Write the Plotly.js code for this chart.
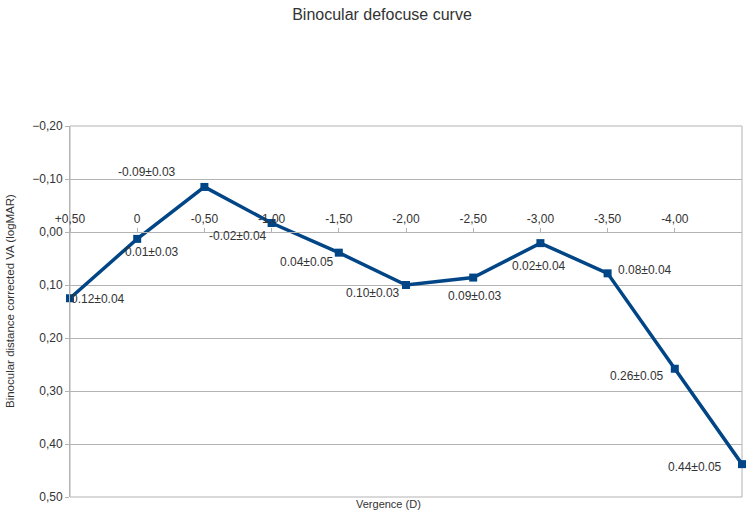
<!DOCTYPE html>
<html>
<head>
<meta charset="utf-8">
<script src="https://cdn.plot.ly/plotly-3.0.1.min.js"></script>
<style>html,body{margin:0;padding:0;background:#fff;}#chart{width:750px;height:513px;}</style>
</head>
<body>
<div id="chart"></div>
<script>
// ---- data ----
const vergence = ["+0,50", "0", "-0,50", "-1,00", "-1,50", "-2,00", "-2,50", "-3,00", "-3,50", "-4,00", "-4,50"];
const shownTicks = ["+0,50", "0", "-0,50", "-1,00", "-1,50", "-2,00", "-2,50", "-3,00", "-3,50", "-4,00"];
const logMAR = [0.125, 0.013, -0.085, -0.017, 0.039, 0.100, 0.086, 0.021, 0.078, 0.258, 0.438];
const pointLabels = ["0.12±0.04", "0.01±0.03", "-0.09±0.03", "-0.02±0.04", "0.04±0.05", "0.10±0.03",
                     "0.09±0.03", "0.02±0.04", "0.08±0.04", "0.26±0.05", "0.44±0.05"];
const yRange = [0.5, -0.2];

// ---- styles ----
const labelShiftX = [28, 15, -57, -34, -32, -33, 2, -1, 37, -38, -47];
const labelShiftY = [-1, -13, 15, -13, -9, -8, -18, -23, 3, -7, -3];
const lineColor = "#004586";
const gridColor = "#b3b3b3";
const textColor = "#333333";
const font = "Liberation Sans, Arial, sans-serif";

const trace = {
  x: vergence, y: logMAR, type: "scatter", mode: "lines+markers",
  line: {color: lineColor, width: 3.5},
  marker: {symbol: "square", size: 8, color: lineColor},
  cliponaxis: false, hoverinfo: "skip"
};

// category axis: annotation x given as category index
const annotations = pointLabels.map((t, i) => ({
  x: vergence.indexOf(vergence[i]), y: logMAR[i], xref: "x", yref: "y", text: t, showarrow: false,
  xanchor: "center", yanchor: "middle", xshift: labelShiftX[i], yshift: labelShiftY[i],
  font: {family: font, size: 12, color: textColor}
}));
annotations.push({
  xref: "paper", yref: "paper", x: 0, y: (497 - 301) / 371, xshift: -60, textangle: -90,
  text: "Binocular distance corrected VA (logMAR)", showarrow: false,
  xanchor: "center", yanchor: "middle", font: {family: font, size: 11.5, color: textColor}
});
annotations.push({
  xref: "paper", yref: "paper", x: (388 - 70) / 672, y: 0, yshift: -7,
  text: "Vergence (D)", showarrow: false, xanchor: "center", yanchor: "middle",
  font: {family: font, size: 11, color: textColor}
});

const layout = {
  width: 750, height: 513,
  margin: {l: 70, r: 8, t: 126, b: 16},
  paper_bgcolor: "#fff", plot_bgcolor: "#fff",
  separators: ",.",
  showlegend: false,
  font: {family: font, size: 12, color: textColor},
  title: {text: "Binocular defocuse curve", font: {family: font, size: 16, color: textColor},
          xref: "container", x: 382 / 750, xanchor: "center", yref: "container", y: 1 - 14 / 513, yanchor: "middle"},
  xaxis: {
    type: "category", range: [0, vergence.length - 1],
    tickmode: "array", tickvals: shownTicks, ticktext: shownTicks,
    anchor: "free", position: (yRange[0] - 0) / (yRange[0] - yRange[1]), side: "top",
    showline: true, linecolor: gridColor, linewidth: 1,
    ticks: "outside", ticklen: 4, tickcolor: gridColor,
    showgrid: false, zeroline: false,
    tickfont: {family: font, size: 12, color: textColor}
  },
  yaxis: {
    range: yRange, dtick: 0.1, tick0: 0, tickformat: ".2f",
    showgrid: true, gridcolor: gridColor, gridwidth: 1,
    showline: true, linecolor: gridColor, linewidth: 1,
    ticks: "outside", ticklen: 4, tickcolor: gridColor,
    zeroline: false,
    tickfont: {family: font, size: 12, color: textColor}
  },
  shapes: [{type: "rect", xref: "paper", yref: "paper", x0: 0, x1: 1, y0: 0, y1: 1,
            line: {color: gridColor, width: 1}, layer: "below"}],
  annotations: annotations
};

Plotly.newPlot("chart", [trace], layout, {displayModeBar: false, staticPlot: true});
</script>
</body>
</html>
